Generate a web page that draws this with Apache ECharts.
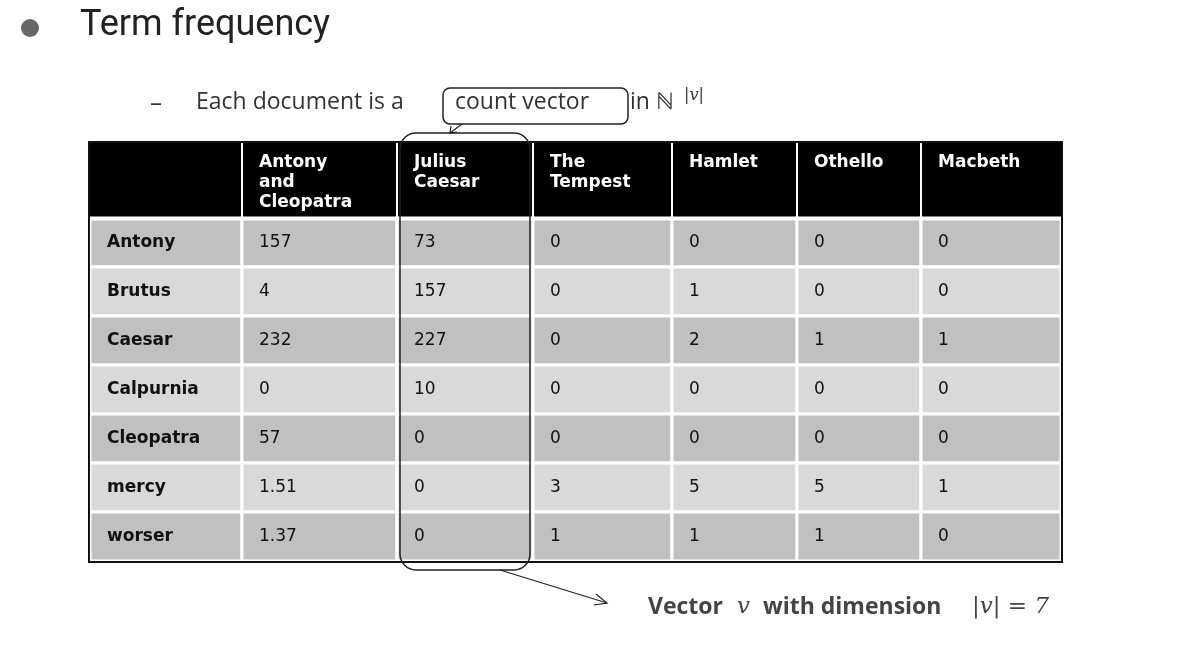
<!DOCTYPE html>
<html><head><meta charset="utf-8">
<script src="https://cdn.jsdelivr.net/npm/echarts@6/dist/echarts.min.js"></script>
<style>html,body{margin:0;background:#fff}#c{width:1184px;height:654px}</style>
</head><body><div id="c"></div>
<script>
var docs = ['Antony\nand\nCleopatra', 'Julius\nCaesar', 'The\nTempest', 'Hamlet', 'Othello', 'Macbeth']
var terms = ['Antony', 'Brutus', 'Caesar', 'Calpurnia', 'Cleopatra', 'mercy', 'worser']
var counts = [
  ['157', '73', '0', '0', '0', '0'],
  ['4', '157', '0', '1', '0', '0'],
  ['232', '227', '0', '2', '1', '1'],
  ['0', '10', '0', '0', '0', '0'],
  ['57', '0', '0', '0', '0', '0'],
  ['1.51', '0', '3', '5', '5', '1'],
  ['1.37', '0', '1', '1', '1', '0']
]
// table column / row edges on the value axes
var colEdges = [0, 152, 307, 443, 582, 707, 831, 971]
var rowEdges = [0, 75, 124, 173, 222, 271, 320, 369, 418]

var cells = []
for (var r = 0; r <= terms.length; r++) {
  for (var c = 0; c <= docs.length; c++) {
    var txt = ''
    if (r === 0 && c > 0) txt = docs[c - 1]
    else if (r > 0 && c === 0) txt = terms[r - 1]
    else if (r > 0) txt = counts[r - 1][c - 1]
    cells.push([colEdges[c], colEdges[c + 1], rowEdges[r], rowEdges[r + 1], txt, r, c])
  }
}

function renderItem (params, api) {
  var p0 = api.coord([api.value(0), api.value(2)])
  var p1 = api.coord([api.value(1), api.value(3)])
  var r = api.value(5), c = api.value(6)
  var fill = r === 0 ? '#000' : (r % 2 === 1 ? '#c0c0c0' : '#d9d9d9')
  var head = r === 0
  return {
    type: 'group',
    children: [
      { type: 'rect', shape: { x: p0[0], y: p0[1], width: p1[0] - p0[0], height: p1[1] - p0[1] },
        style: { fill: fill, stroke: head ? '#000' : '#fff', lineWidth: head ? 0 : 3 } },
      { type: 'text',
        style: { text: cells[params.dataIndex][4], x: p0[0] + 17, y: head ? p0[1] + 10 : (p0[1] + p1[1]) / 2,
          verticalAlign: head ? 'top' : 'middle', fill: head ? '#fff' : '#111',
          font: ((head || c === 0) ? 'bold ' : '') + '17px "DejaVu Sans"', lineHeight: 20 } }
    ]
  }
}

var vlines = colEdges.slice(1, -1).map(function (x) {
  return { type: 'line', shape: { x1: 90 + x, y1: 143, x2: 90 + x, y2: 218 }, style: { stroke: '#fff', lineWidth: 2 }, z: 5 }
})

var chart = echarts.init(document.getElementById('c'))
chart.setOption({
  animation: false,
  grid: { left: 90, right: 123, top: 143, bottom: 93 },
  xAxis: { type: 'value', min: 0, max: 971, show: false },
  yAxis: { type: 'value', min: 0, max: 418, inverse: true, show: false },
  series: [{ type: 'custom', renderItem: renderItem, data: cells.map(function (d) { return [d[0], d[1], d[2], d[3], 0, d[5], d[6]] }) }],
  graphic: vlines.concat([
    { type: 'line', shape: { x1: 90, y1: 219, x2: 1061, y2: 219 }, style: { stroke: '#fff', lineWidth: 3 }, z: 5 },
    { type: 'rect', shape: { x: 89, y: 142, width: 973, height: 420 }, style: { fill: 'none', stroke: '#111', lineWidth: 2 }, z: 10 },
    { type: 'circle', shape: { cx: 30, cy: 28, r: 9 }, style: { fill: '#666' } },
    { type: 'text', left: 80, top: 8, style: { text: 'Term frequency', font: '36px Roboto', fill: '#222' } },
    { type: 'text', left: 150, top: 92, style: { text: '–', font: '24px "Open Sans"', fill: '#333' } },
    { type: 'text', left: 196, top: 91, style: { text: 'Each document is a', font: '23px "Open Sans"', fill: '#333' } },
    { type: 'text', left: 455, top: 91, style: { text: 'count vector', font: '23px "Open Sans"', fill: '#333' } },
    { type: 'text', left: 630, top: 91, style: { text: 'in ℕ', font: '23px "Open Sans"', fill: '#333' } },
    { type: 'text', left: 684, top: 88, style: { text: '|v|', font: 'italic 16px "DejaVu Serif"', fill: '#333' } },
    { type: 'rect', shape: { x: 443, y: 88, width: 185, height: 36, r: 7 }, style: { fill: 'none', stroke: '#222', lineWidth: 1.5 } },
    { type: 'rect', shape: { x: 400, y: 133, width: 130, height: 437, r: 16 }, style: { fill: 'none', stroke: '#222', lineWidth: 1.5 }, z: 10 },
    { type: 'line', shape: { x1: 462, y1: 124, x2: 450, y2: 133 }, style: { stroke: '#222', lineWidth: 1.2 } },
    { type: 'polyline', shape: { points: [[451, 126], [450, 133], [457, 132]] }, style: { fill: 'none', stroke: '#222', lineWidth: 1.2 } },
    { type: 'line', shape: { x1: 500, y1: 570, x2: 607, y2: 603 }, style: { stroke: '#222', lineWidth: 1.2 } },
    { type: 'polyline', shape: { points: [[596, 594], [607, 603], [594, 605]] }, style: { fill: 'none', stroke: '#222', lineWidth: 1.2 } },
    { type: 'text', left: 648, top: 596, style: { text: 'Vector', font: 'bold 23px "Open Sans"', fill: '#444' } },
    { type: 'text', left: 737, top: 596, style: { text: 'v', font: 'italic 23px "DejaVu Serif"', fill: '#444' } },
    { type: 'text', left: 763, top: 596, style: { text: 'with dimension', font: 'bold 23px "Open Sans"', fill: '#444' } },
    { type: 'text', left: 972, top: 596, style: { text: '|v| = 7', font: 'italic 23px "DejaVu Serif"', fill: '#444' } }
  ])
})
</script></body></html>
